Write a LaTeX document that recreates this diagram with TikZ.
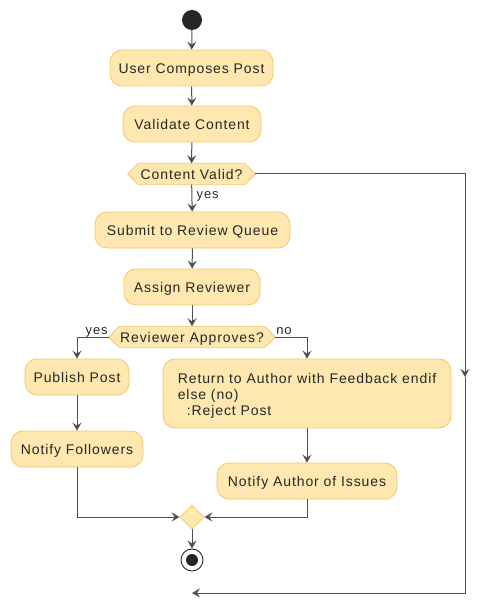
\documentclass[tikz,border=0pt]{standalone}
\usepackage{fontspec}
\setmainfont{Liberation Sans}[LetterSpace=6.5]
\usetikzlibrary{arrows.meta,calc,shapes.geometric,backgrounds}
\definecolor{actfill}{HTML}{FEE8B0}
\definecolor{actdraw}{HTML}{F5C66E}
\definecolor{edgec}{HTML}{505050}
\definecolor{txt}{HTML}{262626}
\begin{document}
\begin{tikzpicture}[x=1pt,y=-1pt,
  act/.style={draw=actdraw, fill=actfill, rounded corners=12pt, minimum height=36pt,
    inner sep=0pt, font=\fontsize{14}{16}\selectfont, text=txt, line width=0.8pt,
    text height=11.5pt, text depth=1pt},
  actm/.style={draw=actdraw, fill=actfill, rounded corners=12pt, inner sep=0pt,
    font=\fontsize{14}{16}\selectfont, text=txt, line width=0.8pt},
  dec/.style={inner sep=0pt, minimum height=21pt, font=\fontsize{14}{16}\selectfont, text=txt,
    text height=11.5pt, text depth=1pt},
  hexa/.style={draw=actdraw, fill=actfill, line width=0.8pt},
  flow/.style={draw=edgec, line width=1pt, -{Stealth[length=8pt,width=9pt,inset=3pt]}},
  lbl/.style={font=\fontsize{13}{15}\selectfont, text=txt, inner sep=0pt}
]
\useasboundingbox (0,0) rectangle (490,609);

\node[circle, fill=txt, minimum size=20pt, inner sep=0pt] (start) at (192,20) {};
\node[act, minimum width=163pt] (a1) at (191.5,68) {User Composes Post};
\node[act, minimum width=138pt] (a2) at (192,124) {Validate Content};
\node[dec, minimum width=127pt] (d1) at (191.5,174) {Content Valid?};
\node[act, minimum width=195pt] (a3) at (192.5,230) {Submit to Review Queue};
\node[act, minimum width=136pt] (a4) at (192,287) {Assign Reviewer};
\node[dec, minimum width=166pt] (d2) at (192,337) {Reviewer Approves?};
\node[act, minimum width=104pt] (a5) at (77,377) {Publish Post};
\node[act, minimum width=132pt] (a6) at (77,449) {Notify Followers};
\node[actm, minimum width=288pt, minimum height=69pt] (a7) at (307,393.5)
  {\raisebox{-2.5pt}[\height][\depth]{\begin{tabular}{@{}l@{}}Return to Author with Feedback endif\\else (no)\\\hspace*{9pt}:Reject Post\end{tabular}}};
\node[act, minimum width=180pt] (a8) at (307,481) {Notify Author of Issues};
\node[diamond, draw=actdraw, fill=actfill, line width=0.8pt, minimum width=24pt,
  minimum height=24pt, inner sep=0pt] (m) at (192,517) {};
\node[circle, draw=txt, fill=white, line width=0.9pt, minimum size=22pt, inner sep=0pt] (end) at (192,560) {};
\fill[txt] (end.center) circle (6pt);

\begin{scope}[on background layer]
\draw[hexa] (d1.west) -- ($(d1.north west)+(10.5,0)$) -- ($(d1.north east)+(-10.5,0)$)
  -- (d1.east) -- ($(d1.south east)+(-10.5,0)$) -- ($(d1.south west)+(10.5,0)$) -- cycle;
\draw[hexa] (d2.west) -- ($(d2.north west)+(10.5,0)$) -- ($(d2.north east)+(-10.5,0)$)
  -- (d2.east) -- ($(d2.south east)+(-10.5,0)$) -- ($(d2.south west)+(10.5,0)$) -- cycle;
\end{scope}

\coordinate (r1) at (465,174);
\coordinate (rmid) at (465,377);
\coordinate (r2) at (465,593);
\coordinate (fin) at (192,593);

\draw[flow] (start) -- (a1);
\draw[flow] (a1) -- (a2);
\draw[flow] (a2) -- (d1);
\draw[flow] (d1) -- (a3);
\node[lbl, anchor=base west] at ($(d1.south)+(5,14)$) {yes};
\draw[flow] (a3) -- (a4);
\draw[flow] (a4) -- (d2);
\draw[flow] (d2.west) -| (a5.north);
\node[lbl, anchor=base east] at ($(d2.west)+(-1,-3)$) {yes};
\draw[flow] (d2.east) -| (a7.north);
\node[lbl, anchor=base west] at ($(d2.east)+(1,-3)$) {no};
\draw[flow] (a5) -- (a6);
\draw[flow] (a7) -- (a8);
\draw[flow] (a6.south) |- (m.west);
\draw[flow] (a8.south) |- (m.east);
\draw[flow] (m) -- (end);
\draw[flow] (d1.east) -- (r1) -- (rmid);
\draw[flow] (rmid) -- (r2) -- (fin);
\end{tikzpicture}
\end{document}
